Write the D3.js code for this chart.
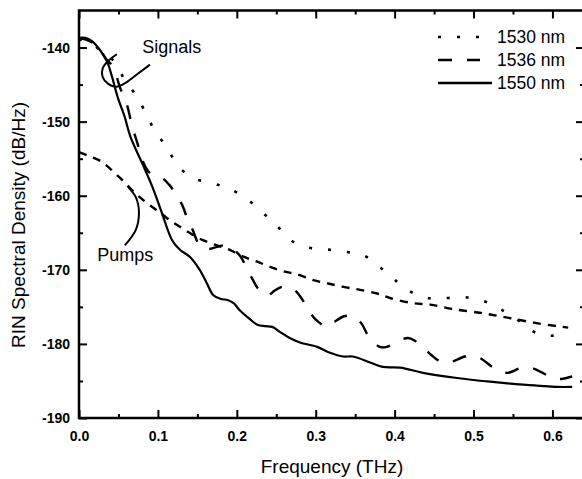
<!DOCTYPE html>
<html>
<head>
<meta charset="utf-8">
<script src="https://cdn.jsdelivr.net/npm/d3@7"></script>
<style>
  body { margin: 0; background: #fff; }
  svg { display: block; font-family: "Liberation Sans", Arial, sans-serif; }
</style>
</head>
<body>
<svg></svg>
<script>
// [frequency THz, RIN dB/Hz]
const signal1530 = [
  [0.000, -138.9], [0.014, -139.3], [0.027, -140.4], [0.037, -141.2], [0.046, -142.0],
  [0.058, -144.4], [0.074, -146.7], [0.086, -149.2], [0.096, -151.2], [0.112, -153.6],
  [0.125, -155.9], [0.144, -157.6], [0.169, -158.3], [0.189, -159.0], [0.210, -160.2],
  [0.232, -162.2], [0.252, -164.2], [0.274, -166.4], [0.295, -167.1], [0.318, -167.3],
  [0.340, -167.6], [0.360, -168.0], [0.381, -169.6], [0.403, -171.6], [0.423, -173.1],
  [0.447, -173.9], [0.468, -173.8], [0.489, -173.7], [0.512, -174.2], [0.534, -175.3],
  [0.555, -176.7], [0.577, -178.4], [0.598, -178.9], [0.620, -178.5]
];

const signal1536 = [
  [0.000, -138.8], [0.008, -138.9], [0.016, -139.3], [0.027, -140.4], [0.034, -141.5],
  [0.043, -142.6], [0.052, -145.4], [0.061, -147.8], [0.067, -150.5], [0.074, -152.9],
  [0.079, -154.8], [0.087, -156.6], [0.096, -157.4], [0.105, -157.6], [0.115, -158.6],
  [0.122, -159.7], [0.131, -161.3], [0.138, -163.3], [0.144, -164.6], [0.153, -166.7],
  [0.163, -167.2], [0.175, -166.9], [0.185, -166.7], [0.194, -167.1], [0.204, -168.1],
  [0.217, -170.7], [0.226, -172.4], [0.232, -173.2], [0.240, -173.4], [0.248, -172.8],
  [0.257, -172.3], [0.267, -172.3], [0.276, -173.0], [0.286, -174.5], [0.295, -176.1],
  [0.303, -177.0], [0.314, -177.7], [0.324, -177.0], [0.335, -176.3], [0.343, -176.2],
  [0.352, -176.6], [0.359, -177.4], [0.366, -178.8], [0.381, -180.4], [0.390, -180.4],
  [0.401, -179.8], [0.417, -179.2], [0.426, -179.6], [0.436, -180.5], [0.451, -181.9],
  [0.461, -182.5], [0.470, -182.5], [0.489, -181.7], [0.498, -181.6], [0.508, -181.9],
  [0.525, -183.2], [0.534, -183.7], [0.544, -183.9], [0.561, -183.2], [0.572, -183.2],
  [0.580, -183.5], [0.597, -184.4], [0.606, -184.7], [0.613, -184.7], [0.625, -184.4]
];

const signal1550 = [
  [0.000, -138.7], [0.008, -138.7], [0.016, -139.1], [0.027, -140.4], [0.036, -142.0],
  [0.042, -144.0], [0.049, -146.7], [0.058, -149.4], [0.065, -152.0], [0.080, -155.6],
  [0.093, -158.8], [0.105, -162.3], [0.118, -166.0], [0.128, -167.3], [0.141, -168.3],
  [0.153, -170.0], [0.162, -171.8], [0.170, -173.4], [0.179, -173.9], [0.189, -174.1],
  [0.196, -174.5], [0.204, -175.5], [0.217, -176.7], [0.226, -177.4], [0.236, -177.6],
  [0.245, -177.7], [0.255, -178.4], [0.267, -179.2], [0.280, -179.8], [0.302, -180.4],
  [0.318, -181.2], [0.335, -181.7], [0.347, -181.7], [0.369, -182.5], [0.385, -183.1],
  [0.407, -183.2], [0.436, -183.9], [0.479, -184.6], [0.521, -185.1], [0.563, -185.5],
  [0.606, -185.8], [0.625, -185.8]
];

const pumps = [
  [0.000, -154.1], [0.014, -154.7], [0.027, -155.3], [0.039, -156.3], [0.052, -157.6],
  [0.065, -159.0], [0.077, -160.2], [0.090, -161.3], [0.103, -162.3], [0.115, -163.3],
  [0.128, -164.2], [0.143, -165.2], [0.157, -166.0], [0.175, -166.7], [0.191, -167.3],
  [0.210, -168.3], [0.226, -168.9], [0.242, -169.6], [0.259, -170.2], [0.276, -170.6],
  [0.297, -171.4], [0.314, -171.8], [0.335, -172.3], [0.356, -172.7], [0.378, -173.2],
  [0.394, -173.8], [0.423, -174.5], [0.445, -174.7], [0.474, -175.3], [0.508, -175.8],
  [0.530, -176.2], [0.555, -176.7], [0.580, -177.2], [0.606, -177.6], [0.620, -177.8]
];

// annotation pointers, in data units
const signalsPointer = [
  [0.048, -140.9], [0.037, -141.8], [0.030, -142.8], [0.030, -144.0], [0.037, -144.9],
  [0.047, -145.3], [0.060, -144.7], [0.075, -143.5], [0.090, -142.3]
];
const pumpsPointer = [
  [0.062, -158.8], [0.072, -160.2], [0.076, -162.3], [0.072, -164.6], [0.058, -166.7]
];

const xMajor = [0, 0.1, 0.2, 0.3, 0.4, 0.5, 0.6];
const xMinor = [0.05, 0.15, 0.25, 0.35, 0.45, 0.55];
const yMajor = [-190, -180, -170, -160, -150, -140];
const yMinor = [-185, -175, -165, -155, -145];

const width = 582, height = 479;
const svg = d3.select("svg").attr("width", width).attr("height", height);

const x = d3.scaleLinear().domain([0, 0.64]).range([79, 584]);
const y = d3.scaleLinear().domain([-190, -135]).range([418, 10.5]);

// axes, ticks all pointing inwards
function styleAxis(g) {
  g.select(".domain").remove();
  g.selectAll(".tick line").attr("stroke", "#000").attr("stroke-width", 2);
  g.selectAll("text").attr("fill", "#000").attr("font-size", 14).attr("font-weight", "bold")
    .attr("font-family", "'Liberation Sans', Arial, sans-serif");
}

svg.append("g").attr("transform", "translate(0,418)")
  .call(d3.axisBottom(x).tickValues(xMajor).tickSize(-8).tickPadding(13).tickFormat(d3.format(".1f")))
  .call(styleAxis);
svg.append("g").attr("transform", "translate(0,418)")
  .call(d3.axisBottom(x).tickValues(xMinor).tickSize(-4).tickFormat(""))
  .call(styleAxis);
svg.append("g").attr("transform", "translate(0,10.5)")
  .call(d3.axisTop(x).tickValues(xMajor).tickSize(-8).tickFormat(""))
  .call(styleAxis);
svg.append("g").attr("transform", "translate(0,10.5)")
  .call(d3.axisTop(x).tickValues(xMinor).tickSize(-4).tickFormat(""))
  .call(styleAxis);

svg.append("g").attr("transform", "translate(79,0)")
  .call(d3.axisLeft(y).tickValues(yMajor).tickSize(-8).tickPadding(9).tickFormat(d => String(d)))
  .call(styleAxis);
svg.append("g").attr("transform", "translate(79,0)")
  .call(d3.axisLeft(y).tickValues(yMinor).tickSize(-4).tickFormat(""))
  .call(styleAxis);
svg.append("g").attr("transform", "translate(584,0)")
  .call(d3.axisRight(y).tickValues(yMajor).tickSize(-8).tickFormat(""))
  .call(styleAxis);
svg.append("g").attr("transform", "translate(584,0)")
  .call(d3.axisRight(y).tickValues(yMinor).tickSize(-4).tickFormat(""))
  .call(styleAxis);

// frame
svg.append("rect")
  .attr("x", x(0)).attr("y", y(-135))
  .attr("width", x(0.64) - x(0)).attr("height", y(-190) - y(-135))
  .attr("fill", "none").attr("stroke", "#000").attr("stroke-width", 2.5);

// curves
const line = d3.line()
  .x(d => x(d[0]))
  .y(d => y(d[1]))
  .curve(d3.curveCatmullRom.alpha(0.5));

const series = [
  { data: pumps, dash: "8,7", w: 2.4 },
  { data: signal1530, dash: "3,16", w: 2.6 },
  { data: signal1536, dash: "14,15", w: 2.4 },
  { data: signal1550, dash: null, w: 2.2 }
];

series.forEach(s => {
  svg.append("path")
    .datum(s.data)
    .attr("fill", "none")
    .attr("stroke", "#000")
    .attr("stroke-width", s.w)
    .attr("stroke-dasharray", s.dash)
    .attr("d", line);
});

// annotation pointers
[signalsPointer, pumpsPointer].forEach(p => {
  svg.append("path")
    .datum(p)
    .attr("fill", "none")
    .attr("stroke", "#000")
    .attr("stroke-width", 2)
    .attr("d", line);
});

svg.append("text").attr("x", x(0.080)).attr("y", y(-140.8))
  .attr("font-size", 18).text("Signals");
svg.append("text").attr("x", x(0.023)).attr("y", y(-168.8))
  .attr("font-size", 18).text("Pumps");

// legend
const legend = [
  { label: "1530 nm", dash: "3,16", len: 42 },
  { label: "1536 nm", dash: "14,15", len: 42 },
  { label: "1550 nm", dash: null, len: 54 }
];
const lg = svg.append("g").attr("transform", "translate(438,37)");
legend.forEach((d, i) => {
  lg.append("line")
    .attr("x1", 0).attr("x2", d.len)
    .attr("y1", i * 23).attr("y2", i * 23)
    .attr("stroke", "#000").attr("stroke-width", 2.4)
    .attr("stroke-dasharray", d.dash);
  lg.append("text")
    .attr("x", 59).attr("y", i * 23).attr("dy", "0.35em")
    .attr("font-size", 17.5).text(d.label);
});

// axis titles
svg.append("text")
  .attr("x", 332).attr("y", 473)
  .attr("text-anchor", "middle")
  .attr("font-size", 19)
  .text("Frequency (THz)");

svg.append("text")
  .attr("transform", "translate(25,225) rotate(-90)")
  .attr("text-anchor", "middle")
  .attr("font-size", 19)
  .text("RIN Spectral Density (dB/Hz)");
</script>
</body>
</html>
